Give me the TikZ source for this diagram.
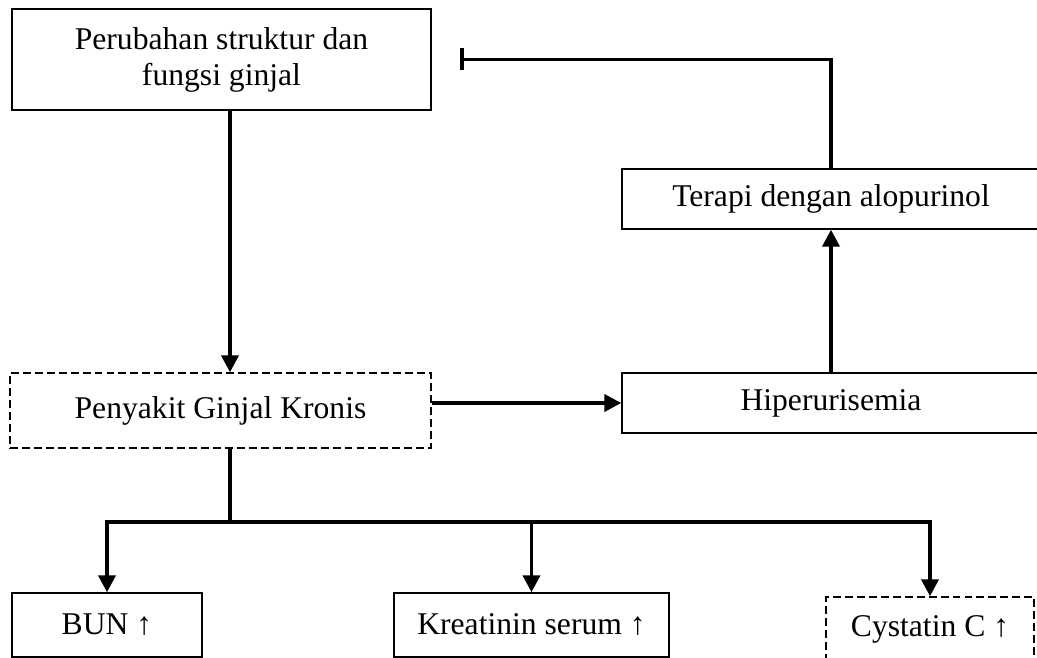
\documentclass[tikz,border=0pt]{standalone}
\usepackage{fontspec}
\setmainfont{Liberation Serif}
\usetikzlibrary{positioning,arrows.meta}

\begin{document}
\begin{tikzpicture}[
    box/.style={
        rectangle,
        draw=black,
        line width=0.8pt,
        align=center,
        font=\fontsize{18}{20.5}\selectfont
    },
    dashbox/.style={
        box,
        dash pattern=on 4.5pt off 2.3pt
    },
    link/.style={
        line width=2.2pt,
        draw=black
    },
    arrow/.style={
        link,
        -{Triangle[length=0.34cm,width=0.34cm]}
    },
    inhibit/.style={
        link,
        -{Bar[width=0.44cm]}
    }
]

% Page frame
\useasboundingbox (0,0) rectangle (20.74,13.16);

% Top row
\node[box, minimum width=8.38cm, minimum height=2.02cm] (perubahan) at (4.43,11.97) {Perubahan struktur dan\\fungsi ginjal};

% Right column
\node[box, minimum width=8.36cm, minimum height=1.2cm] (terapi) at (16.62,9.18) {Terapi dengan alopurinol};
\node[box, minimum width=8.36cm, minimum height=1.2cm] (hiper) at (16.62,5.10) {Hiperurisemia};

% Middle
\node[dashbox, minimum width=8.42cm, minimum height=1.5cm] (pgk) at (4.41,4.95) {Penyakit Ginjal Kronis};

% Bottom row - markers
\node[box, minimum width=3.8cm, minimum height=1.28cm] (bun) at (2.14,0.66) {BUN ↑};
\node[box, minimum width=5.5cm, minimum height=1.28cm] (kreatinin) at (10.63,0.66) {Kreatinin serum ↑};
\node[dashbox, minimum width=4.16cm, minimum height=1.3cm] (cystatin) at (18.6,0.57) {Cystatin C ↑};

% Helper points
\coordinate (bus) at (4.6,2.72);
\coordinate (stop) at (9.2,11.97);

% Main flow
\draw[arrow] (perubahan.south -| bus) -- (pgk.north -| bus);
\draw[arrow] (pgk.east |- hiper.west) -- (hiper.west);
\draw[arrow] (hiper.north) -- (terapi.south);
\draw[inhibit] (terapi.north) |- (stop);

% Branches to the markers
\draw[link] (pgk.south -| bus) -- (bus);
\draw[arrow] (bus) -| (bun.north);
\draw[arrow] (bus) -| (kreatinin.north);
\draw[arrow] (bus) -| (cystatin.north);

\end{tikzpicture}
\end{document}
